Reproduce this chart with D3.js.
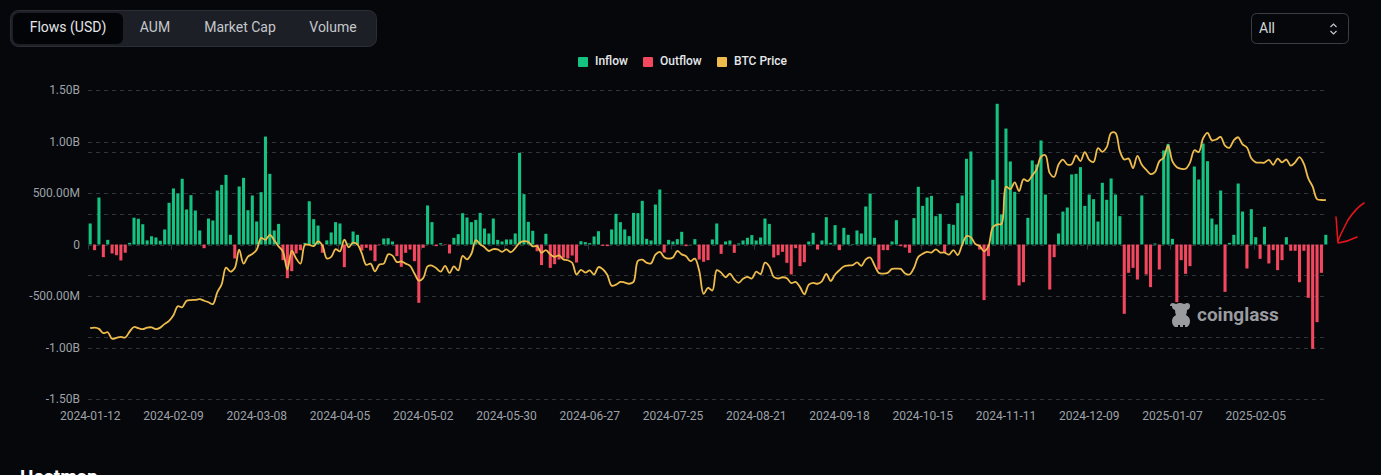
<!DOCTYPE html>
<html>
<head>
<meta charset="utf-8">
<script src="https://cdn.jsdelivr.net/npm/d3@7"></script>
<style>
  body { margin: 0; background: #05070b; overflow: hidden; }
  svg { display: block; font-family: Roboto, "Noto Sans", sans-serif; }
</style>
</head>
<body>
<svg id="chart" width="1381" height="475"></svg>
<script>
// trading days of the spot ETFs (weekdays minus US market holidays)
const START = "2024-01-12";
const END = "2025-02-28";
const holidays = [
  "2024-01-15", "2024-02-19", "2024-03-29", "2024-05-27", "2024-06-19", "2024-07-04",
  "2024-09-02", "2024-11-28", "2024-12-25", "2025-01-01", "2025-01-09", "2025-01-20", "2025-02-17",
];

// net flows, USD millions (one per trading day)
const flows = [
  204, -55, 456, -123, 45, -87, -104, -155, -80, 16, 260, 250, 197, 40, 80, 68, 36, 146, 405, 544,
  495, 638, 340, 479, 330, 136, -36, 252, 233, 524, 579, 676, 94, -136, 563, 647, 333, 476, 223, 508,
  1048, 686, 136, 200, -152, -327, -259, -87, -55, 16, 420, 246, 184, -80, 40, 117, 217, 204, -220, 10,
  126, 94, -58, -32, -58, -162, -5, 58, 61, 29, -113, -217, -81, -49, -162, -566, -32, 379, 217, -16,
  13, -6, -87, 65, 100, 304, 262, 217, 239, 307, 155, 107, 252, 45, 29, 49, 49, 107, 890, 489,
  220, 133, -65, -200, 104, -227, -191, -146, -129, -136, -107, -175, 32, 23, 13, 78, 129, -13, -16, 146,
  298, 217, 146, 81, 307, 304, 424, 55, 39, 388, 534, -78, 45, 29, 52, 123, -16, 2, 52, -146,
  -168, -152, 49, 204, -91, 29, 39, -81, 10, 39, 65, 91, 39, 68, 252, 200, -126, -104, -71, -178,
  -291, -36, -210, -172, 29, 113, -49, 39, 265, 16, 188, -55, 162, 94, 5, 136, 107, 369, 495, 65,
  -243, -55, -55, 29, 236, -16, -29, -81, 256, 560, 375, 456, 472, 275, 298, -81, 200, 191, 401, 476,
  832, 903, -4, -49, -540, -113, 628, 1366, 291, 1126, 806, 511, -398, -366, 259, 816, 777, 1010, 485, -437,
  -123, 107, 320, 359, 680, 686, 751, 375, 485, 440, 223, 599, 434, 641, 485, 275, -673, -275, -227, -340,
  476, -291, -414, 10, -243, 913, 977, 55, -560, -152, -285, -210, 757, 631, 980, 809, 252, 194, 524, -460,
  16, 94, 592, 320, -233, 343, 71, -139, 172, -184, -55, -249, -152, 71, -61, -61, -366, -61, -518, -1013,
  -754, -275, 94,
];

// BTC price, thousands USD (one per trading day)
const prices = [
  42.9, 43.1, 42.7, 41.3, 41.6, 39.5, 39.8, 40.1, 39.9, 41.8, 43.3, 42.9, 42.6, 43.1, 43.2, 42.6, 43.1, 44.3, 45.3, 47.1,
  50.0, 49.7, 51.8, 52.0, 52.1, 52.3, 51.8, 51.3, 50.7, 54.5, 57.1, 62.5, 61.2, 62.4, 68.3, 63.8, 66.1, 66.9, 68.3, 72.1,
  71.5, 73.1, 71.4, 69.4, 67.6, 61.9, 67.9, 65.5, 63.8, 69.9, 69.9, 69.5, 71.0, 69.7, 65.5, 66.0, 68.5, 67.8, 71.6, 69.1,
  70.6, 70.0, 67.1, 63.4, 63.8, 61.3, 63.5, 63.8, 66.8, 66.4, 64.3, 64.5, 63.8, 63.1, 60.6, 58.3, 59.1, 62.9, 63.2, 62.3,
  61.2, 63.1, 60.8, 62.9, 61.6, 66.3, 65.2, 67.0, 71.4, 70.1, 69.1, 67.9, 68.5, 68.4, 67.6, 68.4, 67.5, 68.8, 70.6, 71.1,
  70.8, 69.4, 69.5, 67.3, 68.2, 66.8, 66.0, 66.5, 65.2, 64.9, 64.1, 60.3, 61.8, 60.9, 61.6, 60.3, 62.7, 62.0, 60.2, 56.7,
  57.0, 57.9, 57.7, 57.3, 57.9, 64.7, 65.1, 64.1, 63.9, 66.7, 67.6, 65.9, 65.4, 65.8, 67.9, 66.8, 66.2, 64.6, 65.4, 61.5,
  54.0, 56.0, 55.1, 61.7, 60.9, 59.4, 60.6, 58.7, 57.6, 58.9, 59.5, 59.0, 61.2, 60.4, 64.1, 62.9, 59.5, 59.0, 59.4, 59.1,
  57.5, 57.9, 56.2, 53.9, 57.0, 57.6, 57.3, 58.1, 60.5, 58.2, 60.3, 61.7, 62.9, 63.2, 63.3, 64.2, 63.1, 65.2, 65.8, 63.3,
  60.8, 60.6, 60.8, 62.1, 62.2, 62.1, 60.6, 60.3, 62.4, 66.0, 67.0, 67.6, 67.4, 68.4, 67.4, 67.4, 66.7, 68.2, 66.6, 69.9,
  72.7, 72.3, 70.2, 69.5, 67.8, 69.4, 75.6, 76.5, 76.7, 88.7, 87.9, 90.1, 87.3, 91.1, 90.5, 92.3, 94.3, 98.4, 98.9, 93.1,
  91.9, 95.9, 97.5, 95.9, 96.0, 98.8, 97.0, 99.9, 97.4, 96.7, 101.2, 100.0, 101.5, 106.1, 106.1, 100.2, 97.5, 97.8, 94.7, 98.7,
  95.8, 94.2, 92.8, 93.4, 96.9, 98.1, 102.1, 96.9, 95.0, 94.5, 94.5, 96.5, 100.5, 99.9, 104.4, 106.1, 103.7, 104.0, 104.8, 102.0,
  101.3, 103.7, 104.7, 102.4, 101.4, 97.9, 96.6, 96.5, 96.5, 97.4, 95.8, 97.8, 96.6, 97.5, 95.5, 96.6, 98.3, 96.1, 91.4, 88.7,
  84.7, 84.4, 84.4,
];

const flowTicks = [1500, 1000, 500, 0, -500, -1000, -1500];
const priceTicks = [20, 40, 60, 80, 100, 120];
const LABEL_EVERY = 19;
const tabs = ["Flows (USD)", "AUM", "Market Cap", "Volume"];
const legendItems = [
  { name: "Inflow", color: "#14c381" },
  { name: "Outflow", color: "#f2475f" },
  { name: "BTC Price", color: "#eebc4c" },
];

function tradingDays(start, end, skip) {
  const out = [];
  const fmt = d3.utcFormat("%Y-%m-%d");
  for (let d = new Date(start + "T00:00:00Z"); fmt(d) <= end; d = d3.utcDay.offset(d, 1)) {
    const wd = d.getUTCDay();
    if (wd === 0 || wd === 6 || skip.includes(fmt(d))) continue;
    out.push(fmt(d));
  }
  return out;
}

const dates = tradingDays(START, END, holidays);
const layout = {
  width: 1381,
  height: 475,
  margin: { left: 88, right: 53, top: 90, bottom: 76 },
  grid: "#30343b",
  text: "#9ea1a7",
};

function fmtFlow(v) {
  if (v === 0) return "0";
  const a = Math.abs(v);
  return a >= 1000 ? (v / 1000).toFixed(2) + "B" : v.toFixed(2) + "M";
}

function render() {
  const { width, height, margin } = layout;
  const svg = d3.select("#chart");
  const x0 = margin.left, x1 = width - margin.right;
  const y0 = margin.top, y1 = height - margin.bottom;

  const x = d3.scaleBand().domain(dates).range([x0, x1]).paddingInner(0.3).paddingOuter(0.15);
  const y = d3.scaleLinear().domain([-1500, 1500]).range([y1, y0]);
  const yPrice = d3.scaleLinear().domain([20, 120]).range([y1, y0]);
  const cx = (d) => x(d) + x.bandwidth() / 2;

  // ---- top controls
  const tabsG = svg.append("g");
  tabsG.append("rect").attr("x", 10.5).attr("y", 10.5).attr("width", 366).attr("height", 36)
    .attr("rx", 8).attr("fill", "#1c1f25").attr("stroke", "#2b2e35");
  tabsG.append("rect").attr("x", 13).attr("y", 13).attr("width", 110).attr("height", 31)
    .attr("rx", 6).attr("fill", "#030407");
  const tabX = [68, 155, 240, 333];
  tabsG.selectAll("text.tab").data(tabs).join("text").attr("class", "tab")
    .attr("x", (_, i) => tabX[i]).attr("y", 28.5)
    .attr("text-anchor", "middle").attr("dominant-baseline", "middle")
    .attr("fill", (_, i) => (i === 0 ? "#e4e6ea" : "#c4c7cc"))
    .style("font-size", "14px").text((d) => d);

  const sel = svg.append("g");
  sel.append("rect").attr("x", 1251.5).attr("y", 13.5).attr("width", 97).attr("height", 30)
    .attr("rx", 5).attr("fill", "none").attr("stroke", "#3a3d44");
  sel.append("text").attr("x", 1259).attr("y", 29).attr("dominant-baseline", "middle")
    .attr("fill", "#d6d8dc").style("font-size", "14px").text("All");
  sel.append("path").attr("d", "M1330.5,27 L1333.5,24 L1336.5,27 M1330.5,31 L1333.5,34 L1336.5,31")
    .attr("fill", "none").attr("stroke", "#c4c7cc").attr("stroke-width", 1.2);

  // ---- legend
  const legX = [578, 643, 717];
  const leg = svg.append("g").selectAll("g").data(legendItems).join("g")
    .attr("transform", (_, i) => `translate(${legX[i]},62)`);
  leg.append("rect").attr("x", 0).attr("y", -5).attr("width", 10).attr("height", 10)
    .attr("rx", 1).attr("fill", (d) => d.color);
  leg.append("text").attr("x", 17).attr("y", 0).attr("dominant-baseline", "middle")
    .attr("fill", "#e6e7ea").style("font-size", "12px").style("font-weight", 500).text((d) => d.name);

  // ---- grid lines (flow axis + hidden price axis)
  const grid = svg.append("g").attr("stroke", layout.grid).attr("stroke-dasharray", "4 4");
  grid.selectAll("line.f").data(flowTicks).join("line").attr("class", "f")
    .attr("x1", x0).attr("x2", x1).attr("y1", (d) => Math.round(y(d)) + 0.5).attr("y2", (d) => Math.round(y(d)) + 0.5);
  grid.selectAll("line.p").data(priceTicks.slice(1, -1)).join("line").attr("class", "p")
    .attr("x1", x0).attr("x2", x1).attr("y1", (d) => Math.round(yPrice(d)) + 0.5).attr("y2", (d) => Math.round(yPrice(d)) + 0.5);

  // ---- y axis labels
  const yAxis = svg.append("g").attr("transform", `translate(${x0},0)`)
    .call(d3.axisLeft(y).tickValues(flowTicks).tickFormat(fmtFlow).tickSize(0).tickPadding(8));
  yAxis.select(".domain").remove();
  yAxis.selectAll("text").attr("fill", layout.text).style("font-size", "12px")
    .style("font-family", "Roboto, sans-serif");

  // ---- x axis (labels every 19 trading days)
  const tickDates = dates.filter((_, i) => i % LABEL_EVERY === 0);
  const xAxis = svg.append("g").attr("transform", `translate(0,${y1})`)
    .call(d3.axisBottom(x).tickValues(tickDates).tickSize(0).tickPadding(12));
  xAxis.select(".domain").remove();
  xAxis.selectAll("text").attr("fill", layout.text).style("font-size", "12px")
    .style("font-family", "Roboto, sans-serif");
  svg.append("g").selectAll("line").data(tickDates).join("line")
    .attr("x1", (d) => Math.round(x(d) - x.step() * 0.15) + 0.5)
    .attr("x2", (d) => Math.round(x(d) - x.step() * 0.15) + 0.5)
    .attr("y1", y(0)).attr("y2", y(0) + 5).attr("stroke", "#30343b");

  // ---- bars
  svg.append("g").selectAll("rect").data(dates).join("rect")
    .attr("x", (d) => x(d))
    .attr("width", x.bandwidth())
    .attr("y", (d, i) => y(Math.max(0, flows[i])))
    .attr("height", (d, i) => Math.abs(y(flows[i]) - y(0)))
    .attr("fill", (d, i) => (flows[i] >= 0 ? legendItems[0].color : legendItems[1].color));

  // ---- BTC price line
  const line = d3.line().curve(d3.curveCatmullRom.alpha(0.5))
    .x((d) => cx(d)).y((d, i) => yPrice(prices[i]));
  svg.append("path").datum(dates).attr("d", line)
    .attr("fill", "none").attr("stroke", legendItems[2].color).attr("stroke-width", 1.8);

  // ---- watermark (bull logo + name)
  const wm = svg.append("g").attr("fill", "#9a9b9f");
  wm.append("path").attr("d",
    "M1170,306 q0,-3 3,-3 l3,1 q4,-2 8,0 l3,-1 q3,0 3,3 q0,3 -3,4 q0,3 -1,5 " +
    "q4,2 4,6 q0,4 -3,6 l-2,0 l0,-2 l-2,0 l0,2 l-3,0 l0,-2 l-2,0 l0,2 l-3,0 " +
    "q-3,-2 -3,-6 q0,-4 4,-6 q-1,-2 -1,-5 q-3,-1 -3,-4 z");
  wm.append("text").attr("x", 1197).attr("y", 321).style("font-size", "19px").style("font-weight", 700)
    .text("coinglass");

  // ---- hand-drawn annotation
  const ann = svg.append("g").attr("fill", "none").attr("stroke", "#e3141c").attr("stroke-width", 1.6)
    .attr("stroke-linecap", "round");
  ann.append("path").attr("d", "M1364,203 C1356,208 1352,214 1348,220 C1345,226 1341,233 1338,241");
  ann.append("path").attr("d", "M1336,217 C1337,226 1337,234 1338,242");
  ann.append("path").attr("d", "M1338,243 C1345,242 1351,240 1357,237");

  // ---- next section header (cut off at the window edge, as in the page)
  svg.append("text").attr("x", 20).attr("y", 483).attr("fill", "#ffffff")
    .style("font-size", "19px").style("font-weight", 700).text("Heatmap");
}

render();
</script>
</body>
</html>
